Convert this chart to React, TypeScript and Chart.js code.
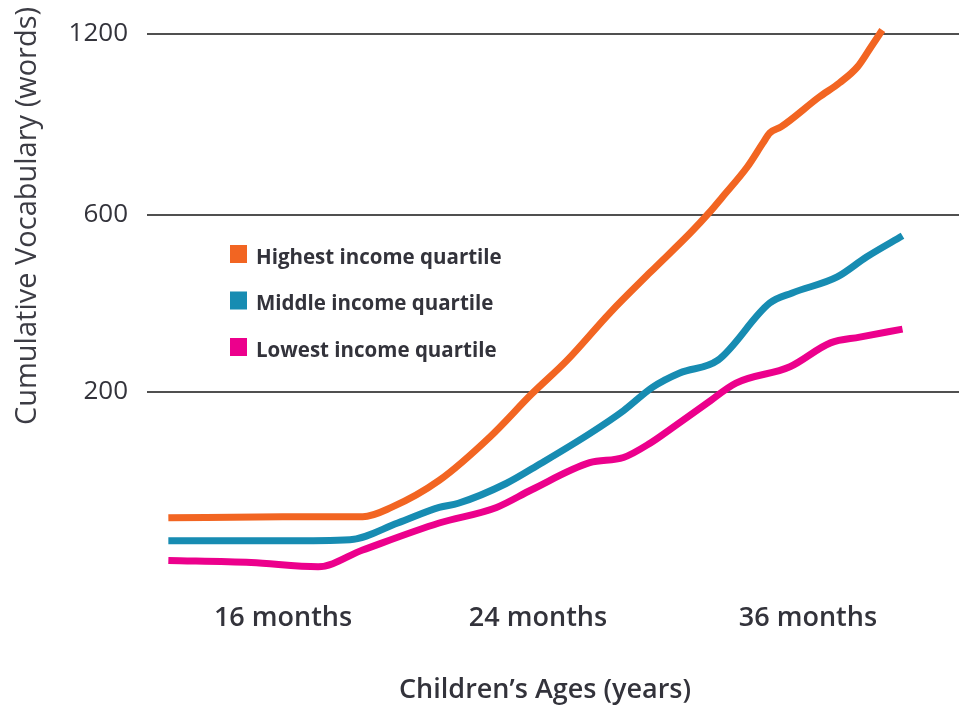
import { useEffect, useRef } from 'react';
import { Chart, registerables, LinearScale } from 'chart.js';

Chart.register(...registerables);

// ---- data (age in months, cumulative vocabulary in words) ----
const SERIES_LABELS = ['Highest income quartile', 'Middle income quartile', 'Lowest income quartile'];

const highMonths = [12.4, 16.0, 18.5, 19.4, 20.9, 22.5, 23.8, 25.3, 27.2, 29.0, 30.8, 31.6, 32.2, 33.3, 34.0, 34.3, 34.8, 36.5, 37.4, 38.2, 38.8, 39.3];
const highWords = [79, 80, 80, 89, 115, 157, 198, 272, 379, 471, 561, 607, 660, 759, 839, 872, 892, 991, 1038, 1091, 1157, 1213];

const midMonths = [12.4, 16.0, 18.1, 19.6, 20.9, 21.5, 23.0, 24.1, 26.3, 27.8, 29.1, 30.3, 32.0, 34.3, 35.3, 37.3, 38.6, 40.2];
const midWords = [57, 57, 58, 74, 89, 93, 112, 131, 160, 182, 211, 243, 272, 401, 424, 460, 505, 553];

const lowMonths = [12.4, 15.0, 17.1, 18.5, 20.9, 22.7, 23.8, 26.3, 27.8, 29.0, 30.0, 31.5, 32.8, 35.2, 37.0, 38.3, 40.2];
const lowWords = [38, 36, 32, 48, 74, 89, 106, 132, 137, 151, 166, 189, 220, 257, 311, 324, 342];

const Y_TICKS = [200, 600, 1200];
const X_TICKS = [16, 24, 36];
const X_TICK_LABELS = ['16 months', '24 months', '36 months'];

const COLORS = ['#F26522', '#178CB2', '#EC008C'];
const FONT = "'Open Sans', 'DejaVu Sans', sans-serif";
const TEXT = '#33333b';

// piecewise-linear scale (the original axes are not evenly spaced)
class PiecewiseScale extends LinearScale {
  static id = 'piecewise';
  static defaults = {};
  _toDec(v: number) {
    const vals = (this.options as any).breakValues as number[];
    const fr = (this.options as any).breakFractions as number[];
    let i = 0;
    while (i < vals.length - 2 && v > vals[i + 1]) i++;
    const t = (v - vals[i]) / (vals[i + 1] - vals[i]);
    return fr[i] + t * (fr[i + 1] - fr[i]);
  }
  getPixelForValue(value: number) {
    if (value === null || value === undefined || isNaN(value)) return NaN;
    return this.getPixelForDecimal(this._toDec(value));
  }
  getValueForPixel(pixel: number) {
    const d = this.getDecimalForPixel(pixel);
    const vals = (this.options as any).breakValues as number[];
    const fr = (this.options as any).breakFractions as number[];
    let i = 0;
    while (i < fr.length - 2 && d > fr[i + 1]) i++;
    const t = (d - fr[i]) / (fr[i + 1] - fr[i]);
    return vals[i] + t * (vals[i + 1] - vals[i]);
  }
}
Chart.register(PiecewiseScale as any);

const toPoints = (xs: number[], ys: number[]) => xs.map((x, i) => ({ x, y: ys[i] }));

const overlayPlugin = {
  id: 'overlay',
  afterDraw(chart: any) {
    const { ctx, chartArea } = chart;
    ctx.save();
    // y-axis title
    ctx.save();
    ctx.translate(28, 216);
    ctx.rotate(-Math.PI / 2);
    ctx.font = `400 29px ${FONT}`;
    ctx.fillStyle = '#3c3c44';
    ctx.textAlign = 'center';
    ctx.textBaseline = 'middle';
    ctx.fillText('Cumulative Vocabulary (words)', 0, 0);
    ctx.restore();
    // x-axis title
    ctx.font = `600 27px ${FONT}`;
    ctx.fillStyle = TEXT;
    ctx.textAlign = 'center';
    ctx.textBaseline = 'middle';
    ctx.fillText('Children\u2019s Ages (years)', 545, 690);
    // legend
    const lx = chartArea.left + 83;
    const ly = 254;
    chart.data.datasets.forEach((ds: any, i: number) => {
      const cy = ly + i * 46.5;
      ctx.fillStyle = ds.borderColor;
      ctx.fillRect(lx, cy - 9, 17, 18);
      ctx.font = `700 20.5px ${FONT}`;
      ctx.fillStyle = TEXT;
      ctx.textAlign = 'left';
      ctx.textBaseline = 'middle';
      ctx.fillText(ds.label, lx + 26, cy + 4);
    });
    ctx.restore();
  },
};

export default function App() {
  const ref = useRef<HTMLCanvasElement>(null);
  useEffect(() => {
    document.body.style.margin = '0';
    const canvas = ref.current!;
    const mk = (i: number, xs: number[], ys: number[]) => ({
      label: SERIES_LABELS[i],
      data: toPoints(xs, ys),
      borderColor: COLORS[i],
      backgroundColor: COLORS[i],
      borderWidth: 7,
      pointRadius: 0,
      cubicInterpolationMode: 'monotone' as const,
      fill: false,
    });
    const chart = new Chart(canvas, {
      type: 'line',
      data: {
        datasets: [mk(0, highMonths, highWords), mk(1, midMonths, midWords), mk(2, lowMonths, lowWords)],
      },
      options: {
        animation: false,
        responsive: true,
        maintainAspectRatio: false,
        layout: { padding: { top: 8, left: 0, right: 0, bottom: 0 } },
        plugins: { legend: { display: false }, tooltip: { enabled: false } },
        scales: {
          x: {
            type: 'piecewise' as any,
            min: 11.73,
            max: 42.71,
            breakValues: [11.73, 16, 24, 36, 42.71],
            breakFractions: [0, 0.1675, 0.4815, 0.814, 1],
            afterBuildTicks: (axis: any) => {
              axis.ticks = X_TICKS.map((value) => ({ value }));
            },
            afterFit: (axis: any) => {
              axis.height = 110;
              axis.paddingLeft = 0;
              axis.paddingRight = 0;
            },
            grid: { display: false, drawTicks: false },
            border: { display: false },
            ticks: {
              autoSkip: false,
              maxRotation: 0,
              padding: 2,
              color: TEXT,
              font: { family: FONT, size: 27, weight: 600 as any },
              callback: (_v: any, index: number) => X_TICK_LABELS[index],
            },
          } as any,
          y: {
            type: 'piecewise' as any,
            min: 0,
            max: 1286,
            breakValues: [0, 200, 600, 1200, 1286],
            breakFractions: [0, 0.3514, 0.6503, 0.9561, 1],
            afterBuildTicks: (axis: any) => {
              axis.ticks = Y_TICKS.map((value) => ({ value }));
            },
            afterFit: (axis: any) => {
              axis.width = 147;
              axis.paddingTop = 0;
              axis.paddingBottom = 0;
            },
            grid: { color: '#505050', lineWidth: 2, drawTicks: false },
            border: { display: false },
            ticks: {
              padding: 19,
              color: TEXT,
              font: { family: FONT, size: 26, weight: 400 as any },
              callback: (v: any) => String(v),
            },
          } as any,
        },
      },
      plugins: [overlayPlugin],
    });
    return () => chart.destroy();
  }, []);
  return (
    <div style={{ position: 'fixed', left: 0, top: 0, width: 959, height: 710, background: '#fff' }}>
      <canvas ref={ref} />
    </div>
  );
}
